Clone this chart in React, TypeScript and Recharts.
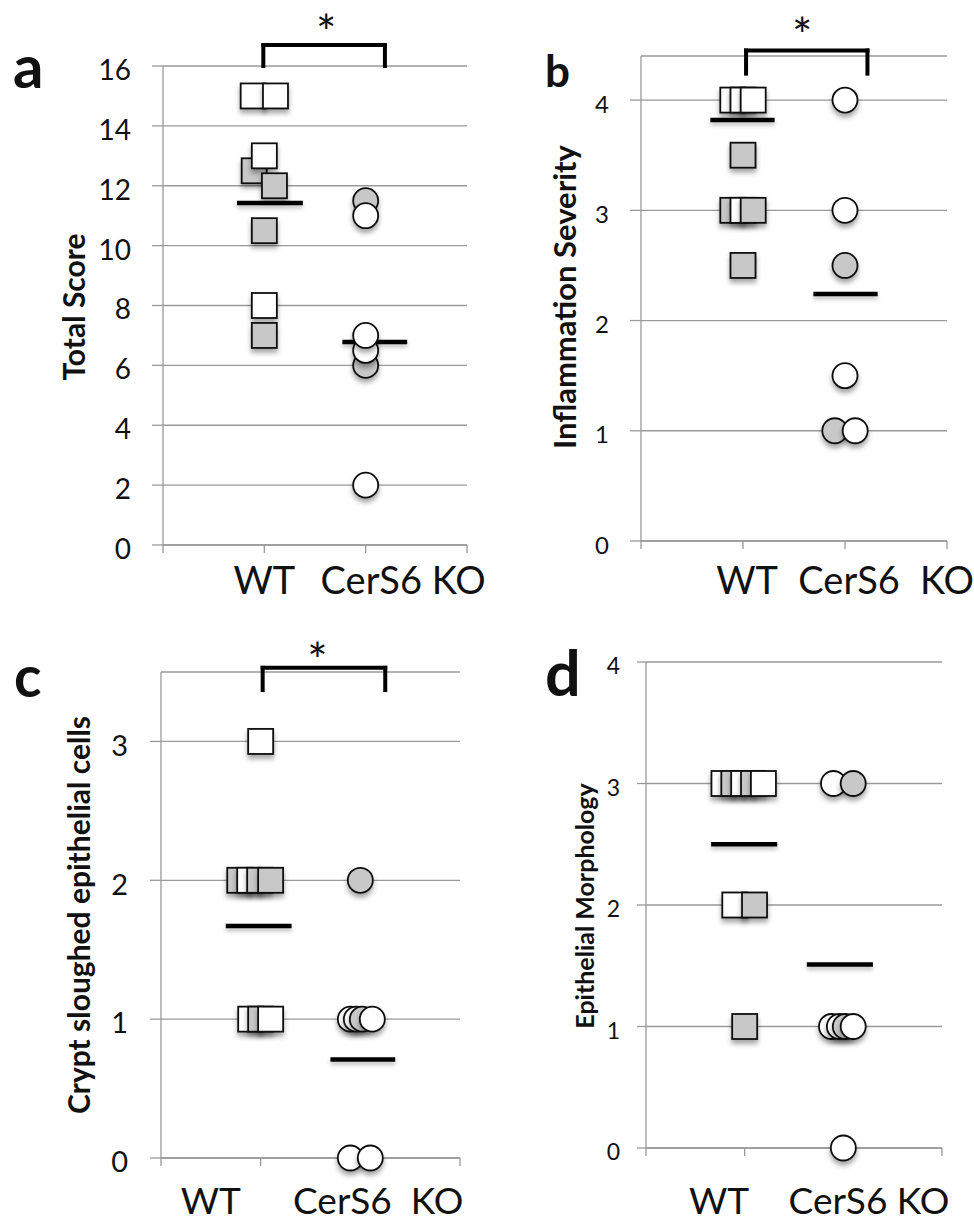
import React from 'react';
import {
  ScatterChart,
  Scatter,
  XAxis,
  YAxis,
  CartesianGrid,
  ReferenceLine,
  ReferenceDot,
} from 'recharts';

// each point: [x (group position incl. jitter), score, subgroup 0 = open, 1 = filled]
type Pt = [number, number, number];

const groupTicks = [0, 1, 2, 3];

// a - Total Score
const totalWT: Pt[] = [
  [0.89, 15, 0], [1.11, 15, 0], [0.9, 12.5, 1], [1, 13, 0], [1.1, 12, 1],
  [1, 10.5, 1], [1, 8, 0], [1, 7, 1],
];
const totalKO: Pt[] = [
  [2, 11.5, 1], [2, 11, 0], [2, 6, 1], [2, 6.5, 0], [2, 7, 0], [2, 2, 0],
];
const totalMeans = [11.42, 6.78];
const totalTicks = [0, 2, 4, 6, 8, 10, 12, 14, 16];
const totalLabels = ['WT', 'CerS6 KO'];
const totalLabelPos = [1, 2.37];

// b - Inflammation Severity
const inflWT: Pt[] = [
  [0.9, 4, 0], [1, 4, 0], [1.1, 4, 0], [1, 3.5, 1],
  [0.9, 3, 1], [1, 3, 0], [1.1, 3, 1], [1, 2.5, 1],
];
const inflKO: Pt[] = [
  [2, 4, 0], [2, 3, 0], [2, 2.5, 1], [2, 1.5, 0], [1.9, 1, 1], [2.1, 1, 0],
];
const inflMeans = [3.82, 2.24];
const inflTicks = [0, 1, 2, 3, 4];
const inflLabels = ['WT', 'CerS6', 'KO'];
const inflLabelPos = [1.04, 2.04, 3];

// c - Crypt sloughed epithelial cells
const cryptWT: Pt[] = [
  [1, 3, 0],
  [0.79, 2, 1], [0.89, 2, 0], [0.99, 2, 1], [1.1, 2, 1],
  [0.9, 1, 0], [1, 1, 1], [1.1, 1, 0],
];
const cryptKO: Pt[] = [
  [2, 2, 1],
  [1.9, 1, 0], [1.96, 1, 0], [2.02, 1, 1], [2.12, 1, 0],
  [1.9, 0, 0], [2.1, 0, 0],
];
const cryptMeans = [1.67, 0.71];
const cryptTicks = [0, 1, 2, 3];
const cryptLabels = ['WT', 'CerS6', 'KO'];
const cryptLabelPos = [0.5, 1.82, 2.77];

// d - Epithelial Morphology
const morphWT: Pt[] = [
  [0.79, 3, 0], [0.89, 3, 1], [0.99, 3, 0], [1.09, 3, 1], [1.19, 3, 0],
  [0.9, 2, 0], [1.1, 2, 1], [1, 1, 1],
];
const morphKO: Pt[] = [
  [1.9, 3, 0], [2.1, 3, 1],
  [1.88, 1, 0], [1.96, 1, 0], [2.02, 1, 1], [2.1, 1, 0],
  [2, 0, 0],
];
const morphMeans = [2.5, 1.51];
const morphTicks = [0, 1, 2, 3, 4];
const morphLabels = ['WT', 'CerS6 KO'];
const morphLabelPos = [0.74, 2.26];

const FONT = 'Lato, "Open Sans", sans-serif';
const GRAY = '#c8c8c8';
const GRID = '#9a9a9a';
const MARK = 25;

const toRows = (pts: Pt[]) => pts.map(([x, y, g]) => ({ x, y, g }));

const Square = (p: any) => (
  <rect
    x={p.cx - MARK / 2}
    y={p.cy - MARK / 2}
    width={MARK}
    height={MARK}
    fill={p.payload.g ? GRAY : '#fff'}
    stroke="#111"
    strokeWidth={1.8}
    filter="url(#markShadow)"
  />
);

const Dot = (p: any) => (
  <circle
    cx={p.cx}
    cy={p.cy}
    r={MARK / 2}
    fill={p.payload.g ? GRAY : '#fff'}
    stroke="#111"
    strokeWidth={1.8}
    filter="url(#markShadow)"
  />
);

const Nothing = () => <g />;

const Star = (p: any) => (
  <text x={p.cx} y={p.cy + 27} textAnchor="middle" fontSize={48} fontFamily={FONT} fill="#111">
    *
  </text>
);

interface Bracket {
  x1: number;
  x2: number;
  top: number;
  bottom: number;
  sx: number;
  sy: number;
}

interface PanelProps {
  left: number;
  top: number;
  width: number;
  height: number;
  margin: { top: number; right: number; bottom: number; left: number };
  yDomain: [number, number];
  yTicks: number[];
  yFont: number;
  yTickSize: number;
  yTickMargin: number;
  wt: Pt[];
  ko: Pt[];
  means: number[];
  meanSpan: [number, number][];
  labels: string[];
  labelPos: number[];
  labelMargin: number;
  labelFont: number;
  bracket?: Bracket;
}

const Panel: React.FC<PanelProps> = (p) => {
  const bk = p.bracket;
  const bkStyle = { stroke: '#000', strokeWidth: 4, strokeLinecap: 'square' as const, ifOverflow: 'visible' as const };
  const labelRows = p.labelPos.map((x) => ({ x, y: 0 }));
  return (
    <div style={{ position: 'absolute', left: p.left, top: p.top }}>
      <ScatterChart width={p.width} height={p.height} margin={p.margin}>
        <CartesianGrid horizontal vertical={false} stroke={GRID} strokeWidth={1.3} />
        <XAxis
          xAxisId={0}
          dataKey="x"
          type="number"
          domain={[0, 3]}
          ticks={groupTicks}
          interval={0}
          height={10}
          tickSize={8}
          tickFormatter={() => ''}
          axisLine={{ stroke: GRID, strokeWidth: 1.3 }}
          tickLine={{ stroke: GRID, strokeWidth: 1.3 }}
        />
        <XAxis
          xAxisId="lab"
          dataKey="x"
          type="number"
          domain={[0, 3]}
          ticks={p.labelPos}
          interval={0}
          height={50}
          tickSize={0}
          tickMargin={p.labelMargin}
          axisLine={false}
          tickLine={false}
          tickFormatter={(v: number) => p.labels[p.labelPos.indexOf(v)]}
          tick={{ fontSize: p.labelFont, fill: '#111', fontFamily: FONT }}
        />
        <YAxis
          dataKey="y"
          type="number"
          domain={p.yDomain}
          ticks={p.yTicks}
          interval={0}
          width={60}
          tickSize={p.yTickSize}
          tickMargin={p.yTickMargin}
          axisLine={{ stroke: GRID, strokeWidth: 1.3 }}
          tickLine={{ stroke: GRID, strokeWidth: 1.3 }}
          tick={{ fontSize: p.yFont, fill: '#111', fontFamily: FONT, dy: 4 }}
        />
        <Scatter xAxisId="lab" data={labelRows} shape={Nothing} isAnimationActive={false} />
        <Scatter data={toRows(p.wt)} shape={Square} isAnimationActive={false} />
        <Scatter data={toRows(p.ko)} shape={Dot} isAnimationActive={false} />
        {p.means.map((m, i) => (
          <ReferenceLine
            key={'m' + i}
            segment={[
              { x: i + 1 + p.meanSpan[i][0], y: m },
              { x: i + 1 + p.meanSpan[i][1], y: m },
            ]}
            stroke="#000"
            strokeWidth={4.5}
            filter="url(#lineShadow)"
          />
        ))}
        {bk && (
          <ReferenceLine segment={[{ x: bk.x1, y: bk.top }, { x: bk.x2, y: bk.top }]} {...bkStyle} />
        )}
        {bk && (
          <ReferenceLine segment={[{ x: bk.x1, y: bk.bottom }, { x: bk.x1, y: bk.top }]} {...bkStyle} />
        )}
        {bk && (
          <ReferenceLine segment={[{ x: bk.x2, y: bk.bottom }, { x: bk.x2, y: bk.top }]} {...bkStyle} />
        )}
        {bk && <ReferenceDot x={bk.sx} y={bk.sy} ifOverflow="visible" shape={Star} />}
      </ScatterChart>
    </div>
  );
};

const Title = ({ x, y, size, text }: { x: number; y: number; size: number; text: string }) => (
  <text
    transform={`translate(${x},${y}) rotate(-90)`}
    textAnchor="middle"
    dominantBaseline="central"
    fontSize={size}
    fontWeight="bold"
    fontFamily={FONT}
    fill="#111"
  >
    {text}
  </text>
);

const Letter = ({ x, y, size, text }: { x: number; y: number; size: number; text: string }) => (
  <text x={x} y={y} fontSize={size} fontWeight="bold" fontFamily={FONT} fill="#111">
    {text}
  </text>
);

export default function App() {
  return (
    <div style={{ position: 'absolute', left: 0, top: 0, width: 974, height: 1222, background: '#fff' }}>
      <svg width={0} height={0} style={{ position: 'absolute' }}>
        <defs>
          <filter id="markShadow" x="-50%" y="-50%" width="200%" height="220%">
            <feDropShadow dx={0} dy={4} stdDeviation={2.5} floodColor="#000" floodOpacity={0.35} />
          </filter>
          <filter id="lineShadow" filterUnits="userSpaceOnUse" x={-100} y={-100} width={800} height={900}>
            <feDropShadow dx={0} dy={3} stdDeviation={2} floodColor="#000" floodOpacity={0.25} />
          </filter>
        </defs>
      </svg>

      <Panel
        left={0}
        top={0}
        width={487}
        height={610}
        margin={{ top: 66, right: 20, bottom: 5, left: 103 }}
        yDomain={[0, 16]}
        yTicks={totalTicks}
        yFont={28}
        yTickSize={11}
        yTickMargin={21}
        wt={totalWT}
        ko={totalKO}
        means={totalMeans}
        meanSpan={[[-0.27, 0.38], [-0.23, 0.41]]}
        labels={totalLabels}
        labelPos={totalLabelPos}
        labelMargin={12}
        labelFont={38}
        bracket={{ x1: 0.99, x2: 2.19, top: 16.7, bottom: 16, sx: 1.61, sy: 17.43 }}
      />
      <Panel
        left={487}
        top={0}
        width={487}
        height={610}
        margin={{ top: 56, right: 27, bottom: 9, left: 94 }}
        yDomain={[0, 4.4]}
        yTicks={inflTicks}
        yFont={24}
        yTickSize={11}
        yTickMargin={21}
        wt={inflWT}
        ko={inflKO}
        means={inflMeans}
        meanSpan={[[-0.32, 0.31], [-0.31, 0.32]]}
        labels={inflLabels}
        labelPos={inflLabelPos}
        labelMargin={16}
        labelFont={38}
        bracket={{ x1: 1.03, x2: 2.22, top: 4.45, bottom: 4.24, sx: 1.58, sy: 4.67 }}
      />
      <Panel
        left={0}
        top={610}
        width={487}
        height={612}
        margin={{ top: 62, right: 27, bottom: 4, left: 101 }}
        yDomain={[0, 3.5]}
        yTicks={cryptTicks}
        yFont={29}
        yTickSize={11}
        yTickMargin={22}
        wt={cryptWT}
        ko={cryptKO}
        means={cryptMeans}
        meanSpan={[[-0.35, 0.31], [-0.3, 0.35]]}
        labels={cryptLabels}
        labelPos={cryptLabelPos}
        labelMargin={20}
        labelFont={37}
        bracket={{ x1: 1.02, x2: 2.25, top: 3.53, bottom: 3.37, sx: 1.57, sy: 3.65 }}
      />
      <Panel
        left={487}
        top={610}
        width={487}
        height={612}
        margin={{ top: 52, right: 32, bottom: 14, left: 99 }}
        yDomain={[0, 4]}
        yTicks={morphTicks}
        yFont={23}
        yTickSize={9}
        yTickMargin={17}
        wt={morphWT}
        ko={morphKO}
        means={morphMeans}
        meanSpan={[[-0.34, 0.33], [-0.37, 0.3]]}
        labels={morphLabels}
        labelPos={morphLabelPos}
        labelMargin={30}
        labelFont={37}
      />

      <svg width={974} height={1222} style={{ position: 'absolute', left: 0, top: 0, pointerEvents: 'none' }}>
        <Letter x={13} y={88} size={60} text="a" />
        <Letter x={545} y={87} size={44} text="b" />
        <Letter x={14} y={697} size={57} text="c" />
        <Letter x={545} y={696} size={63} text="d" />
        <Title x={73} y={307} size={30} text="Total Score" />
        <Title x={564} y={297} size={31} text="Inflammation Severity" />
        <Title x={78} y={915} size={30} text="Crypt sloughed epithelial cells" />
        <Title x={584} y={906} size={25} text="Epithelial Morphology" />
      </svg>
    </div>
  );
}
